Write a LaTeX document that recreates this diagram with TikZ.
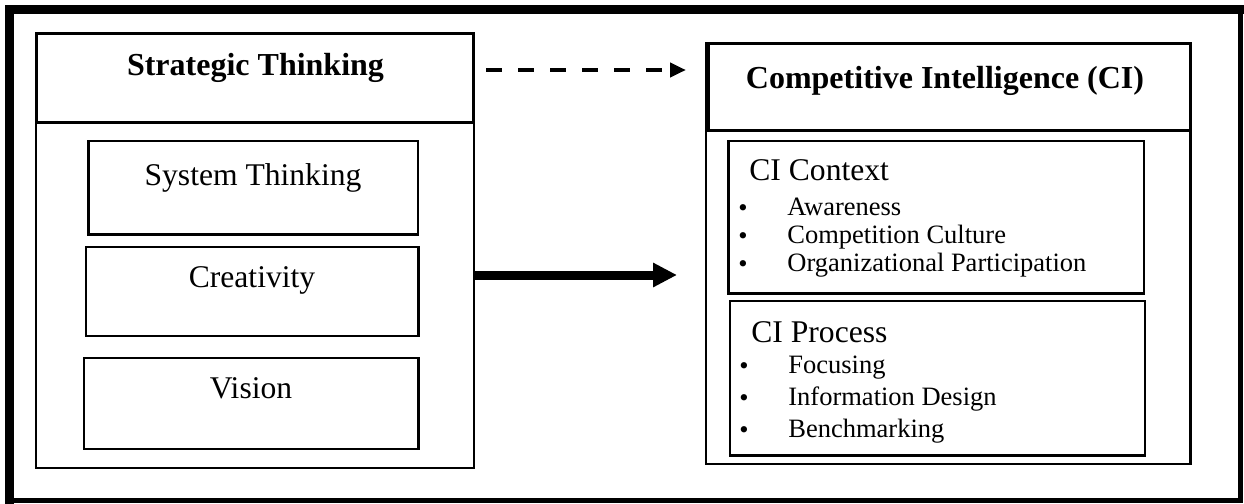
\documentclass[tikz,border=0pt]{standalone}
\usepackage{fontspec}
\setmainfont{Liberation Serif}
\usetikzlibrary{positioning,arrows.meta,fit}
\newcommand{\bulitem}[1]{\makebox[25pt][l]{\hspace{0.5pt}\raisebox{-0.75pt}{\textbullet}}#1}

\begin{document}
\begin{tikzpicture}[
  x=0.5pt, y=-0.5pt,
  body/.style={draw,line width=1pt,inner sep=0pt},
  hdr/.style={draw,line width=1.5pt,inner sep=0pt},
  pane/.style={draw,line width=1.3pt,inner sep=0pt},
  ttl/.style={anchor=base,inner sep=0pt,font=\fontsize{16}{19}\selectfont\bfseries},
  lbl/.style={anchor=base,inner sep=0pt,font=\fontsize{15.8}{19}\selectfont},
  subttl/.style={anchor=base west,inner sep=0pt,font=\fontsize{15.8}{19}\selectfont},
  itm/.style={anchor=base west,inner sep=0pt,font=\fontsize{13.25}{16}\selectfont},
  mui/.style={-{Triangle[length=12pt,width=11.5pt]},line width=4.5pt},
  dut/.style={-{Triangle[length=8pt,width=7pt]},line width=2pt,dash pattern=on 8pt off 8pt}
]
\useasboundingbox (0,0) rectangle (1244,504);

% frame round everything, heavier on top and left
\draw[line width=2.5pt] (9.5,9.5) rectangle (1240.5,500.5);
\draw[line width=4.5pt,line cap=rect] (9.5,500.5) -- (9.5,9.5) -- (1240.5,9.5);

% strategic thinking side
\node[body,fit={(36,33.5) (474,468)}] (stbody) {};
\node[hdr,fit={(36.5,33.5) (473.5,122.5)}] (st) {};
\node[ttl] (sttxt) at (255.5,75) {Strategic Thinking};

\node[pane,fit={(88.5,141) (418,234.5)}] (sys) {};
\node[pane,fit={(86,247) (418.3,336)}] (cre) {};
\node[pane,fit={(84,358) (418.3,449)}] (vis) {};
\node[lbl] (systxt) at (253,185) {System Thinking};
\node[lbl] (cretxt) at (252,287) {Creativity};
\node[lbl] (vistxt) at (251,398) {Vision};

% competitive intelligence side
\node[body,line width=1.3pt,fit={(706,43.5) (1190.5,464)}] (cibody) {};
\node[hdr,fit={(708.5,43.5) (1190,130)}] (ci) {};
\node[ttl] (citxt) at (945,88) {Competitive Intelligence (CI)};

\node[pane,fit={(728.5,141) (1144,293.5)}] (ctx) {};
\node[pane,fit={(730,301) (1145,455.5)}] (proc) {};

\node[subttl] (ctxtxt) at (749,180) {CI Context};
\foreach \t/\y [count=\i] in {Awareness/215,Competition Culture/243,Organizational Participation/271}
  \node[itm] (ctx\i) at (737,\y) {\bulitem{\t}};

\node[subttl] (proctxt) at (751,342) {CI Process};
\foreach \t/\y [count=\i] in {Focusing/373,Information Design/405,Benchmarking/437}
  \node[itm] (proc\i) at (738,\y) {\bulitem{\t}};

% links between the two sides
\coordinate (dfrom) at (486,70);
\coordinate (dto) at (686,70);
\coordinate (sfrom) at (474,275);
\coordinate (sto) at (677,275);
\draw[dut] (dfrom) -- (dto);
\draw[mui] (sfrom) -- (sto);
\end{tikzpicture}
\end{document}
